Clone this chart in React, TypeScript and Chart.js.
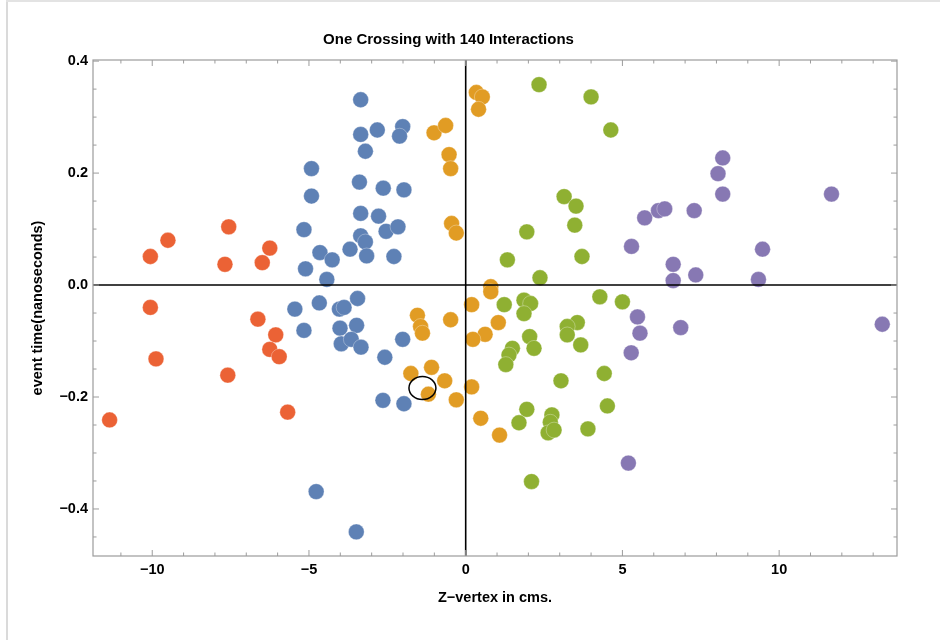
import React, { useEffect, useRef } from "react";
import { Chart, registerables } from "chart.js";

Chart.register(...registerables);

const TITLE = "One Crossing with 140 Interactions";
const X_LABEL = "Z\u2212vertex in cms.";
const Y_LABEL = "event time(nanoseconds)";

const X_MIN = -11.89;
const X_MAX = 13.76;
const Y_MIN = -0.484;
const Y_MAX = 0.402;

const X_MAJOR = [-10, -5, 0, 5, 10];
const X_TICK_LABELS = ["\u221210", "\u22125", "0", "5", "10"];
const X_MINOR = [-11, -9, -8, -7, -6, -4, -3, -2, -1, 1, 2, 3, 4, 6, 7, 8, 9, 11, 12, 13];
const Y_MAJOR = [-0.4, -0.2, 0, 0.2, 0.4];
const Y_TICK_LABELS = ["\u22120.4", "\u22120.2", "0.0", "0.2", "0.4"];
const Y_MINOR = [-0.45, -0.35, -0.3, -0.25, -0.15, -0.1, -0.05, 0.05, 0.1, 0.15, 0.25, 0.3, 0.35];

// Series 1 (blue)
const BLUE_X = [-3.35, -3.35, -2.82, -2.01, -2.11, -3.2, -4.92, -3.39, -2.63, -1.97, -4.92, -3.35, -2.78, -5.16, -2.54, -2.16, -3.35, -3.2, -4.65, -4.26, -3.69, -3.16, -2.29, -5.11, -4.43, -3.45, -5.45, -4.67, -4.03, -3.88, -5.16, -4.01, -3.48, -3.97, -3.65, -3.34, -2.01, -2.58, -2.64, -1.97, -4.77, -3.49];
const BLUE_Y = [0.331, 0.269, 0.277, 0.283, 0.266, 0.239, 0.208, 0.184, 0.173, 0.17, 0.159, 0.128, 0.123, 0.099, 0.096, 0.104, 0.088, 0.077, 0.058, 0.045, 0.064, 0.052, 0.051, 0.029, 0.01, -0.024, -0.043, -0.032, -0.043, -0.04, -0.081, -0.077, -0.072, -0.105, -0.097, -0.111, -0.097, -0.129, -0.206, -0.212, -0.369, -0.441];

// Series 2 (orange)
const ORANGE_X = [0.34, 0.53, 0.41, -1.01, -0.64, -0.53, -0.48, -0.45, -0.3, 0.8, 0.8, 0.19, 1.04, 0.62, 0.23, -1.54, -1.44, -1.38, -0.48, -1.75, -1.09, -0.67, -1.19, -0.3, 0.19, 0.48, 1.08];
const ORANGE_Y = [0.344, 0.336, 0.314, 0.272, 0.285, 0.233, 0.208, 0.11, 0.093, -0.003, -0.012, -0.035, -0.067, -0.088, -0.097, -0.054, -0.074, -0.086, -0.062, -0.158, -0.147, -0.171, -0.195, -0.205, -0.182, -0.238, -0.268];

// Series 3 (green)
const GREEN_X = [2.34, 4.0, 4.63, 3.14, 3.52, 3.48, 1.95, 3.71, 1.33, 2.37, 1.23, 1.86, 2.07, 1.86, 4.28, 5.0, 3.56, 3.24, 3.24, 3.67, 2.04, 2.18, 1.49, 1.38, 1.28, 3.04, 4.42, 4.52, 1.95, 1.7, 2.75, 2.7, 2.63, 2.82, 3.9, 2.1];
const GREEN_Y = [0.358, 0.336, 0.277, 0.158, 0.141, 0.107, 0.095, 0.051, 0.045, 0.013, -0.035, -0.027, -0.033, -0.051, -0.021, -0.03, -0.067, -0.074, -0.089, -0.107, -0.092, -0.113, -0.113, -0.125, -0.142, -0.171, -0.158, -0.216, -0.222, -0.246, -0.232, -0.245, -0.264, -0.259, -0.257, -0.351];

// Series 4 (red)
const RED_X = [-7.56, -9.5, -10.06, -7.68, -6.25, -6.49, -10.06, -6.63, -6.06, -6.25, -5.95, -9.88, -7.59, -5.68, -11.36];
const RED_Y = [0.104, 0.08, 0.051, 0.037, 0.066, 0.04, -0.04, -0.061, -0.089, -0.115, -0.128, -0.132, -0.161, -0.227, -0.241];

// Series 5 (purple)
const PURPLE_X = [8.2, 8.05, 8.2, 11.67, 5.71, 6.15, 6.35, 7.29, 5.29, 9.47, 6.62, 6.62, 7.34, 9.34, 5.48, 5.56, 6.86, 13.29, 5.28, 5.19];
const PURPLE_Y = [0.227, 0.199, 0.1625, 0.1625, 0.12, 0.133, 0.136, 0.133, 0.069, 0.064, 0.037, 0.008, 0.018, 0.01, -0.057, -0.086, -0.076, -0.07, -0.121, -0.318];

// Highlighted ellipse (data units)
const ELLIPSE_CX = -1.38;
const ELLIPSE_CY = -0.184;
const ELLIPSE_RX = 0.43;
const ELLIPSE_RY = 0.0205;

const COLORS = ["#5E81B5", "#E19C24", "#8FB032", "#EB6235", "#8778B3"];
const FONT = "'Liberation Sans', Arial, Helvetica, sans-serif";
const FRAME_COLOR = "#9c9c9c";

const toPoints = (xs: number[], ys: number[]) => xs.map((x, i) => ({ x, y: ys[i] }));

const framePlugin = {
  id: "mmaFrame",
  afterDatasetsDraw(chart: any) {
    const { ctx, chartArea: a, scales } = chart;
    const xs = scales.x;
    const ys = scales.y;
    const line = (x1: number, y1: number, x2: number, y2: number) => {
      ctx.beginPath();
      ctx.moveTo(x1, y1);
      ctx.lineTo(x2, y2);
      ctx.stroke();
    };
    ctx.save();
    // axes (in front)
    ctx.strokeStyle = "#000";
    ctx.lineWidth = 1.6;
    const x0 = xs.getPixelForValue(0);
    const y0 = ys.getPixelForValue(0);
    line(x0, a.top, x0, a.bottom);
    line(a.left, y0, a.right, y0);
    // frame
    ctx.strokeStyle = FRAME_COLOR;
    ctx.lineWidth = 1.2;
    ctx.strokeRect(a.left, a.top, a.right - a.left, a.bottom - a.top);
    const xt = (vals: number[], len: number) =>
      vals.forEach((v) => {
        const p = xs.getPixelForValue(v);
        line(p, a.bottom, p, a.bottom - len);
        line(p, a.top, p, a.top + len);
      });
    const yt = (vals: number[], len: number) =>
      vals.forEach((v) => {
        const p = ys.getPixelForValue(v);
        line(a.left, p, a.left + len, p);
        line(a.right, p, a.right - len, p);
      });
    ctx.lineWidth = 1;
    xt(X_MAJOR, 6);
    xt(X_MINOR, 3.5);
    yt(Y_MAJOR, 6);
    yt(Y_MINOR, 3.5);
    // ellipse
    const cx = xs.getPixelForValue(ELLIPSE_CX);
    const cy = ys.getPixelForValue(ELLIPSE_CY);
    const rx = Math.abs(xs.getPixelForValue(ELLIPSE_CX + ELLIPSE_RX) - cx);
    const ry = Math.abs(ys.getPixelForValue(ELLIPSE_CY + ELLIPSE_RY) - cy);
    ctx.strokeStyle = "#000";
    ctx.lineWidth = 1.5;
    ctx.beginPath();
    ctx.ellipse(cx, cy, rx, ry, 0, 0, Math.PI * 2);
    ctx.stroke();
    ctx.restore();
  },
};

export default function App() {
  const ref = useRef<HTMLCanvasElement>(null);
  useEffect(() => {
    if (!ref.current) return;
    const series = [
      toPoints(BLUE_X, BLUE_Y),
      toPoints(ORANGE_X, ORANGE_Y),
      toPoints(GREEN_X, GREEN_Y),
      toPoints(RED_X, RED_Y),
      toPoints(PURPLE_X, PURPLE_Y),
    ];
    const chart = new Chart(ref.current, {
      type: "scatter",
      data: {
        datasets: series.map((d, i) => ({
          data: d,
          backgroundColor: COLORS[i],
          borderColor: "rgba(255,255,255,0.45)",
          borderWidth: 0.7,
          pointRadius: 7.9,
          order: 5 - i,
        })),
      },
      options: {
        responsive: false,
        animation: false,
        events: [],
        layout: { padding: { left: 0, top: 0, right: 43, bottom: 0 } },
        plugins: {
          legend: { display: false },
          tooltip: { enabled: false },
          title: {
            display: true,
            text: TITLE,
            color: "#000",
            font: { family: FONT, size: 15, weight: "bold" },
            padding: { top: 31, bottom: 11 },
          },
        },
        scales: {
          x: {
            type: "linear",
            min: X_MIN,
            max: X_MAX,
            grid: { display: false, drawTicks: false },
            border: { display: false },
            afterBuildTicks: (s: any) => {
              s.ticks = X_MAJOR.map((v) => ({ value: v }));
            },
            afterFit: (s: any) => {
              s.height = 84;
            },
            ticks: {
              autoSkip: false,
              maxRotation: 0,
              padding: 5.3,
              color: "#000",
              font: { family: FONT, size: 14.5, weight: "bold" },
              callback: (_v: any, i: number) => X_TICK_LABELS[i],
            },
            title: {
              display: true,
              text: X_LABEL,
              color: "#000",
              font: { family: FONT, size: 14.5, weight: "bold" },
              padding: { top: 0, bottom: 33.3 },
            },
          },
          y: {
            type: "linear",
            min: Y_MIN,
            max: Y_MAX,
            grid: { display: false, drawTicks: false },
            border: { display: false },
            afterBuildTicks: (s: any) => {
              s.ticks = Y_MAJOR.map((v) => ({ value: v }));
            },
            afterFit: (s: any) => {
              s.width = 93;
            },
            ticks: {
              autoSkip: false,
              padding: 5,
              color: "#000",
              font: { family: FONT, size: 14.5, weight: "bold" },
              callback: (_v: any, i: number) => Y_TICK_LABELS[i],
            },
            title: {
              display: true,
              text: Y_LABEL,
              color: "#000",
              font: { family: FONT, size: 14.5, weight: "bold" },
              padding: { top: 29.3, bottom: 0 },
            },
          },
        },
      },
      plugins: [framePlugin],
    } as any);
    return () => chart.destroy();
  }, []);
  return (
    <div style={{ position: "absolute", left: 0, top: 0, width: 940, height: 640, background: "#fff" }}>
      <canvas ref={ref} width={940} height={640} style={{ display: "block", width: 940, height: 640 }} />
      <div style={{ position: "absolute", left: 6, top: 0, width: 2, height: 640, background: "#dadada" }} />
      <div style={{ position: "absolute", left: 6, top: 0, width: 934, height: 2, background: "#e3e3e3" }} />
    </div>
  );
}
